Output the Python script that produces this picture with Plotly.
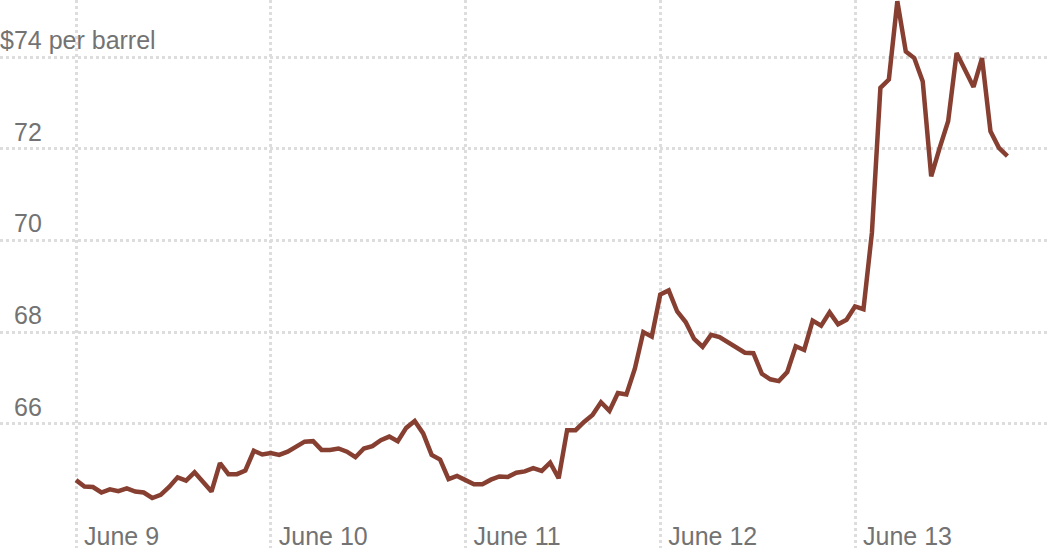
import plotly.graph_objects as go

# Trading-hour index (23 hourly points per trading day), June 9 -> June 13
day_labels = ["June 9", "June 10", "June 11", "June 12", "June 13"]
points_per_day = 23

price = [
    64.77, 64.63, 64.62, 64.50, 64.57, 64.53, 64.59, 64.52, 64.50, 64.38,
    64.45, 64.62, 64.83, 64.76, 64.94, 64.74, 64.52, 65.14, 64.90, 64.90,
    64.98, 65.41, 65.33, 65.36, 65.32, 65.39, 65.50, 65.61, 65.62, 65.43,
    65.43, 65.46, 65.39, 65.27, 65.46, 65.51, 65.64, 65.72, 65.62, 65.91,
    66.06, 65.79, 65.32, 65.22, 64.79, 64.86, 64.77, 64.68, 64.68, 64.78,
    64.85, 64.84, 64.93, 64.96, 65.03, 64.97, 65.15, 64.81, 65.86, 65.86,
    66.04, 66.19, 66.47, 66.28, 66.67, 66.64, 67.20, 68.00, 67.90, 68.82,
    68.91, 68.45, 68.22, 67.85, 67.68, 67.94, 67.89, 67.78, 67.67, 67.55,
    67.54, 67.09, 66.97, 66.93, 67.13, 67.69, 67.61, 68.25, 68.14, 68.43,
    68.17, 68.27, 68.56, 68.50, 70.17, 73.33, 73.51, 75.22, 74.12, 73.98,
    73.47, 71.40, 72.02, 72.60, 74.09, 73.72, 73.35, 73.98, 72.38, 72.02,
    71.84,
]
hour_index = list(range(len(price)))

y_ticks = [66, 68, 70, 72, 74]
y_ticktext = ["66", "68", "70", "72", "$74 per barrel"]
x_ticks = [k * points_per_day for k in range(len(day_labels))]

LINE = "#863f31"
GRID = "#dddddd"
TEXT = "#737373"
FONT = "Liberation Sans"
FS = 25

fig = go.Figure()
fig.add_trace(go.Scatter(
    x=hour_index, y=price, mode="lines",
    line=dict(color=LINE, width=4.5, shape="linear"),
    hoverinfo="skip", showlegend=False, cliponaxis=True,
))

# y-axis labels sit above their gridlines, numbers aligned after the "$"
for v, t in zip(y_ticks, y_ticktext):
    fig.add_annotation(
        xref="paper", yref="y", x=0, y=v, text=t, showarrow=False,
        xanchor="left", yanchor="middle",
        xshift=0 if t.startswith("$") else 14, yshift=17,
        borderpad=0, borderwidth=0,
        font=dict(family=FONT, size=FS, color=TEXT),
    )

fig.update_layout(
    width=1050, height=550,
    margin=dict(l=0, r=0, t=0, b=0),
    paper_bgcolor="white", plot_bgcolor="white",
    font=dict(family=FONT, size=FS, color=TEXT),
    xaxis=dict(
        range=[-8.976, 115.03],
        tickvals=x_ticks, ticktext=day_labels,
        showgrid=True, gridcolor=GRID, gridwidth=3, griddash="3px,3px",
        zeroline=False, showline=False, ticks="",
        ticklabelposition="inside right", ticklabelshift=8, ticklabelstandoff=-8,
        tickfont=dict(family=FONT, size=FS, color=TEXT),
        fixedrange=True,
    ),
    yaxis=dict(
        range=[63.289, 75.246],
        tickvals=y_ticks, showticklabels=False,
        showgrid=True, gridcolor=GRID, gridwidth=3, griddash="3px,3px",
        zeroline=False, showline=False, ticks="",
        fixedrange=True,
    ),
)

fig.write_html(
    "out.html",
    config={"displayModeBar": False},
    post_script="document.body.style.margin='0';document.body.style.overflow='hidden';",
)
